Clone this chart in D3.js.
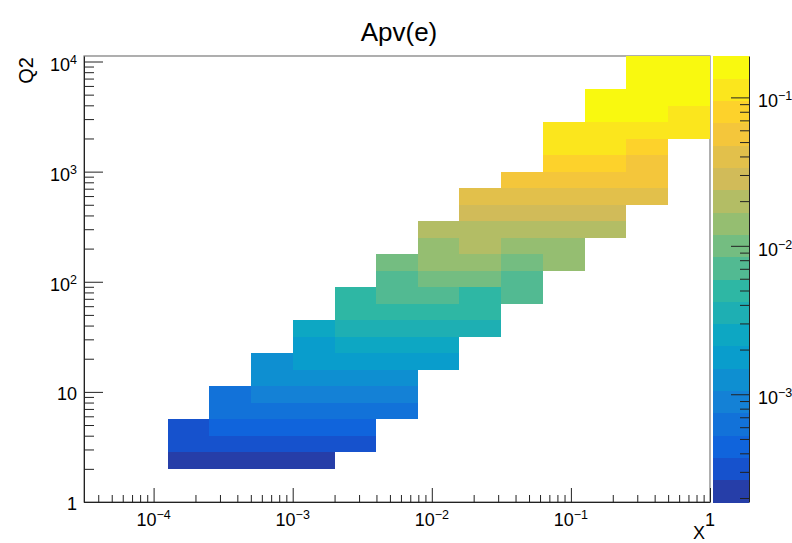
<!DOCTYPE html>
<html>
<head>
<meta charset="utf-8">
<script src="https://cdn.jsdelivr.net/npm/d3@7"></script>
<style>
body { margin: 0; background: #fff; }
text { font-family: "Liberation Sans", Arial, Helvetica, sans-serif; fill: #000; }
</style>
</head>
<body>
<div id="chart"></div>
<script>
// bin edges (15 log bins in X, 27 in Q2)
var xEdges = [3.16e-5, 6.31e-5, 1.26e-4, 2.51e-4, 5.01e-4, 1.0e-3, 2.0e-3, 3.98e-3,
              7.94e-3, 1.58e-2, 3.16e-2, 6.31e-2, 0.126, 0.251, 0.501, 1];
var q2Edges = [1, 1.41, 2, 2.82, 3.98, 5.62, 7.94, 11.2, 15.8, 22.4, 31.6, 44.7, 63.1, 89.1,
               125.9, 177.8, 251.2, 354.8, 501.2, 707.9, 1000, 1413, 1995, 2818, 3981,
               5623, 7943, 11220];

// one entry per filled Q2 bin: first filled X bin and the Apv(e) values from there on
var rowQ2Bin  = [2, 3, 4, 5, 6, 7, 8, 9, 10, 11, 12, 13, 14, 15, 16, 17, 18, 19, 20, 21, 22, 23, 24, 25, 26];
var rowFirstX = [2, 2, 2, 3, 3, 4, 4, 5, 5, 6, 6, 7, 7, 8, 8, 9, 9, 10, 11, 11, 11, 12, 12, 13, 13];
var apv = [
  [2.2e-4, 2.2e-4, 2.2e-4, 2.2e-4],
  [3.2e-4, 3.2e-4, 3.2e-4, 3.2e-4, 3.2e-4],
  [3.2e-4, 4.5e-4, 4.5e-4, 4.5e-4, 4.5e-4],
  [6.3e-4, 6.3e-4, 6.3e-4, 6.3e-4, 6.3e-4],
  [6.3e-4, 8.9e-4, 8.9e-4, 8.9e-4, 8.9e-4],
  [1.26e-3, 1.26e-3, 1.26e-3, 1.26e-3],
  [1.26e-3, 1.8e-3, 1.8e-3, 1.8e-3, 1.8e-3],
  [1.8e-3, 2.5e-3, 2.5e-3, 2.5e-3],
  [2.5e-3, 3.6e-3, 3.6e-3, 3.6e-3, 3.6e-3],
  [5.0e-3, 5.0e-3, 5.0e-3, 5.0e-3],
  [5.0e-3, 7.1e-3, 7.1e-3, 5.0e-3, 7.1e-3],
  [7.1e-3, 1.0e-2, 1.0e-2, 7.1e-3],
  [1.0e-2, 1.43e-2, 1.43e-2, 1.0e-2, 1.43e-2],
  [1.43e-2, 2.0e-2, 1.43e-2, 1.43e-2],
  [2.0e-2, 2.0e-2, 2.0e-2, 2.0e-2, 2.0e-2],
  [2.85e-2, 2.85e-2, 2.85e-2, 2.85e-2],
  [4.0e-2, 4.0e-2, 4.0e-2, 4.0e-2, 4.0e-2],
  [5.7e-2, 5.7e-2, 5.7e-2, 5.7e-2],
  [8.0e-2, 8.0e-2, 5.7e-2],
  [0.114, 0.114, 8.0e-2],
  [0.114, 0.114, 0.114, 0.114],
  [0.16, 0.16, 0.114],
  [0.16, 0.16, 0.16],
  [0.16, 0.16],
  [0.16, 0.16]
];

var xDecades = [-4, -3, -2, -1, 0];
var q2Decades = [0, 1, 2, 3, 4];
var zDecades = [-3, -2, -1];
var zMin = 1.88e-4, zMax = 0.19, nLevels = 20;

// kBird palette stops
var birdStops = [0.0, 0.125, 0.25, 0.375, 0.5, 0.625, 0.75, 0.875, 1.0];
var birdR = [0.2082, 0.0592, 0.0780, 0.0232, 0.1802, 0.5301, 0.8186, 0.9956, 0.9764];
var birdG = [0.1664, 0.3599, 0.5041, 0.6419, 0.7178, 0.7492, 0.7328, 0.7862, 0.9832];
var birdB = [0.5293, 0.8684, 0.8385, 0.7914, 0.6425, 0.4662, 0.3499, 0.1968, 0.0539];

var table = [];
for (var g = 1; g < birdStops.length; g++) {
  var n = Math.floor(255 * birdStops[g]) - Math.floor(255 * birdStops[g - 1]);
  for (var c = 0; c < n; c++) {
    var f = c / n;
    table.push(d3.rgb(255 * (birdR[g-1] + f * (birdR[g] - birdR[g-1])),
                      255 * (birdG[g-1] + f * (birdG[g] - birdG[g-1])),
                      255 * (birdB[g-1] + f * (birdB[g] - birdB[g-1]))).formatHex());
  }
}
var levelColor = d3.range(nLevels).map(function(k) {
  return table[Math.floor((k + 0.99) * table.length / nLevels)];
});

var W = 792, H = 543,
    fr = {left: 84, right: 710, top: 56, bottom: 502},
    pal = {left: 713, right: 749};

var svg = d3.select("#chart").append("svg").attr("width", W).attr("height", H);

var x = d3.scaleLog().domain([xEdges[0], xEdges[xEdges.length - 1]]).range([fr.left, fr.right]);
var y = d3.scaleLog().domain([q2Edges[0], q2Edges[q2Edges.length - 1]]).range([fr.bottom, fr.top]);
var zy = d3.scaleLog().domain([zMin, zMax]).range([fr.bottom, fr.top]);
var zLevel = d3.scaleLog().domain([zMin, zMax]).range([0, nLevels]);

function colorOf(v) {
  var k = Math.max(0, Math.min(nLevels - 1, Math.floor(zLevel(v))));
  return levelColor[k];
}

// frame
svg.append("rect")
  .attr("x", fr.left).attr("y", fr.top)
  .attr("width", fr.right - fr.left).attr("height", fr.bottom - fr.top)
  .attr("fill", "none").attr("stroke", "#7a7a7a").attr("stroke-width", 1.2);

// cells
var cells = [];
rowQ2Bin.forEach(function(j, r) {
  apv[r].forEach(function(v, k) {
    cells.push({i: rowFirstX[r] + k, j: j, v: v});
  });
});

svg.append("g").attr("shape-rendering", "crispEdges")
  .selectAll("rect").data(cells).enter().append("rect")
  .attr("x", function(d) { return x(xEdges[d.i]); })
  .attr("y", function(d) { return y(q2Edges[d.j + 1]); })
  .attr("width", function(d) { return x(xEdges[d.i + 1]) - x(xEdges[d.i]); })
  .attr("height", function(d) { return y(q2Edges[d.j]) - y(q2Edges[d.j + 1]); })
  .attr("fill", function(d) { return colorOf(d.v); });

// palette boxes
var boxH = (fr.bottom - fr.top) / nLevels;
svg.append("g").attr("shape-rendering", "crispEdges")
  .selectAll("rect").data(levelColor).enter().append("rect")
  .attr("x", pal.left)
  .attr("y", function(d, k) { return fr.bottom - (k + 1) * boxH; })
  .attr("width", pal.right - pal.left)
  .attr("height", boxH + 0.5)
  .attr("fill", function(d) { return d; });

function minors(decades, lo, hi) {
  var out = [];
  for (var d = decades[0] - 1; d <= decades[decades.length - 1]; d++)
    for (var m = 2; m <= 9; m++) {
      var v = m * Math.pow(10, d);
      if (v > lo && v < hi) out.push(v);
    }
  return out;
}
function pow10(d) { return Math.pow(10, d); }

// x axis
svg.append("g").attr("transform", "translate(0," + fr.bottom + ")").attr("color", "#222")
  .call(d3.axisBottom(x).tickValues(xDecades.map(pow10)).tickSizeInner(-14).tickSizeOuter(0).tickFormat(""));
var xm = svg.append("g").attr("transform", "translate(0," + fr.bottom + ")").attr("color", "#222")
  .call(d3.axisBottom(x).tickValues(minors(xDecades, x.domain()[0], x.domain()[1])).tickSizeInner(-7).tickSizeOuter(0).tickFormat(""));
xm.select(".domain").remove();

// y axis
svg.append("g").attr("transform", "translate(" + fr.left + ",0)").attr("color", "#222")
  .call(d3.axisLeft(y).tickValues(q2Decades.map(pow10)).tickSizeInner(-19).tickSizeOuter(0).tickFormat(""));
var ym = svg.append("g").attr("transform", "translate(" + fr.left + ",0)").attr("color", "#222")
  .call(d3.axisLeft(y).tickValues(minors(q2Decades, y.domain()[0], y.domain()[1])).tickSizeInner(-10).tickSizeOuter(0).tickFormat(""));
ym.select(".domain").remove();

// z axis
svg.append("g").attr("transform", "translate(" + pal.right + ",0)").attr("color", "#222")
  .call(d3.axisRight(zy).tickValues(zDecades.map(pow10)).tickSizeInner(-18).tickSizeOuter(0).tickFormat(""));
var zm = svg.append("g").attr("transform", "translate(" + pal.right + ",0)").attr("color", "#222")
  .call(d3.axisRight(zy).tickValues(minors(zDecades, zMin, zMax)).tickSizeInner(-9).tickSizeOuter(0).tickFormat(""));
zm.select(".domain").remove();
svg.selectAll(".tick text").remove();

// power-of-ten labels
function powerLabel(g, d, px, py, anchor) {
  var t = g.append("text").attr("x", px).attr("y", py)
    .attr("text-anchor", anchor).attr("font-size", 18);
  if (d === 0) { t.text("1"); return; }
  if (d === 1) { t.text("10"); return; }
  t.append("tspan").text("10");
  t.append("tspan").attr("font-size", 12.5).attr("dy", -7)
    .text(d < 0 ? "\u2212" + (-d) : String(d));
}

var labels = svg.append("g");
xDecades.forEach(function(d) { powerLabel(labels, d, x(pow10(d)), 526, "middle"); });
q2Decades.forEach(function(d) {
  powerLabel(labels, d, 77, y(pow10(d)) + (d > 1 ? 9 : 8), "end");
});
zDecades.forEach(function(d) { powerLabel(labels, d, 758, zy(pow10(d)) + 10, "start"); });

// titles
svg.append("text").attr("x", 399).attr("y", 41).attr("text-anchor", "middle")
  .attr("font-size", 26).text("Apv(e)");
svg.append("text").attr("x", 705).attr("y", 539).attr("text-anchor", "end")
  .attr("font-size", 18).text("X");
svg.append("text").attr("transform", "translate(33,57) rotate(-90)")
  .attr("text-anchor", "end").attr("font-size", 20).text("Q2");
</script>
</body>
</html>
